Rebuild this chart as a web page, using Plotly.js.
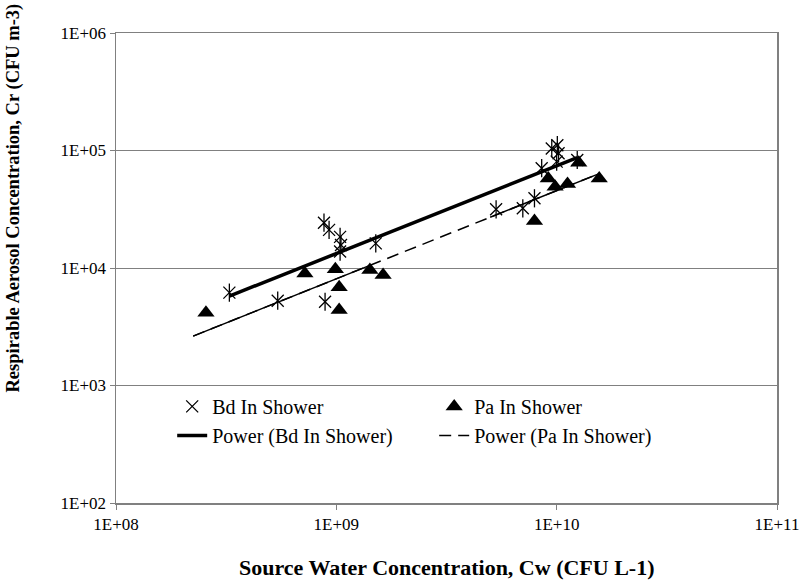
<!DOCTYPE html>
<html>
<head>
<meta charset="utf-8">
<script src="https://cdn.plot.ly/plotly-3.0.1.min.js"></script>
<style>html,body{margin:0;padding:0;background:#fff;}#chart{width:800px;height:587px;}</style>
</head>
<body>
<div id="chart"></div>
<script>
// ---- data ----
const bdX = [3.27e8, 8.79e8, 9.27e8, 1.04e9, 1.05e9, 1.04e9, 1.51e9, 5.42e8, 8.89e8, 9.5e9, 1.007e10, 1.02e10, 1.0e10, 8.55e9, 7.93e9, 7.02e9, 5.31e9, 1.24e10];
const bdY = [6.17e3, 2.43e4, 2.11e4, 1.84e4, 1.57e4, 1.38e4, 1.62e4, 5.27e3, 5.16e3, 1.04e5, 1.11e5, 9.46e4, 8.04e4, 7.07e4, 3.92e4, 3.22e4, 3.16e4, 8.3e4];
const paX = [2.56e8, 7.2e8, 9.9e8, 1.03e9, 1.03e9, 1.42e9, 1.63e9, 1.26e10, 9.16e9, 9.84e9, 1.12e10, 1.56e10, 7.93e9];
const paY = [4.17e3, 9.0e3, 9.75e3, 6.85e3, 4.40e3, 9.6e3, 8.7e3, 7.87e4, 5.79e4, 4.92e4, 5.19e4, 5.79e4, 2.51e4];
const paTrendXRange = [2.24e8, 1.57e10];
const paSolidGap = [1.42e9, 4.99e9];
const xTickVals = [1e8, 1e9, 1e10, 1e11];
const xTickText = ['1E+08', '1E+09', '1E+10', '1E+11'];
const yTickVals = [1e2, 1e3, 1e4, 1e5, 1e6];
const yTickText = ['1E+02', '1E+03', '1E+04', '1E+05', '1E+06'];
const seriesNames = ['Bd In Shower', 'Pa In Shower', 'Power (Bd In Shower)', 'Power (Pa In Shower)'];

// power-law (log-log least squares) fit
function powerFit(xs, ys) {
  const lx = xs.map(Math.log10), ly = ys.map(Math.log10);
  const n = lx.length;
  const mx = lx.reduce((a, b) => a + b, 0) / n, my = ly.reduce((a, b) => a + b, 0) / n;
  let sxy = 0, sxx = 0;
  for (let i = 0; i < n; i++) { sxy += (lx[i] - mx) * (ly[i] - my); sxx += (lx[i] - mx) ** 2; }
  const b = sxy / sxx, a = my - b * mx;
  return x => Math.pow(10, a + b * Math.log10(x));
}
const bdFit = powerFit(bdX, bdY);
const paFit = powerFit(paX, paY);
const bdRange = [Math.min(...bdX), Math.max(...bdX)];

const FONT = 'Liberation Serif';

const traces = [
  { x: bdX, y: bdY, mode: 'markers', type: 'scatter', name: seriesNames[0],
    marker: { symbol: 'x-thin-open', size: 12, color: '#000', line: { color: '#000', width: 1.3 } } },
  { x: paX, y: paY, mode: 'markers', type: 'scatter', name: seriesNames[1],
    marker: { symbol: 'triangle-up', size: 15, color: '#000' } },
  { x: bdRange, y: bdRange.map(bdFit), mode: 'lines', type: 'scatter', name: seriesNames[2],
    line: { color: '#000', width: 3.5 } },
  { x: paTrendXRange, y: paTrendXRange.map(paFit), mode: 'lines', type: 'scatter', name: seriesNames[3],
    line: { color: '#000', width: 1.5, dash: '12px,7px' } },
  { x: [paTrendXRange[0], paSolidGap[0]], y: [paTrendXRange[0], paSolidGap[0]].map(paFit), mode: 'lines', type: 'scatter',
    showlegend: false, hoverinfo: 'skip', line: { color: '#000', width: 1.5 } },
  { x: [paSolidGap[1], paTrendXRange[1]], y: [paSolidGap[1], paTrendXRange[1]].map(paFit), mode: 'lines', type: 'scatter',
    showlegend: false, hoverinfo: 'skip', line: { color: '#000', width: 1.5 } },
  { x: bdX, y: bdY, mode: 'markers', type: 'scatter', showlegend: false, hoverinfo: 'skip',
    marker: { symbol: 'line-ns-open', size: 13, color: '#000', line: { color: '#000', width: 1.3 } } }
];

const axisCommon = {
  type: 'log', ticks: 'outside', ticklen: 5, tickcolor: '#808080', tickwidth: 1,
  showline: true, linecolor: '#808080', linewidth: 1.5, mirror: true, zeroline: false,
  tickfont: { family: FONT, size: 17, color: '#000' }
};

const layout = {
  width: 800, height: 587,
  margin: { l: 116, r: 23, t: 33, b: 84 },
  paper_bgcolor: '#fff', plot_bgcolor: '#fff',
  showlegend: true,
  xaxis: Object.assign({}, axisCommon, {
    range: [8, 11], tickvals: xTickVals, ticktext: xTickText, showgrid: false
  }),
  yaxis: Object.assign({}, axisCommon, {
    range: [2, 6], tickvals: yTickVals, ticktext: yTickText,
    showgrid: true, gridcolor: '#808080', gridwidth: 1
  }),
  legend: {
    orientation: 'h', x: 0.085, y: 0.247, xanchor: 'left', yanchor: 'top',
    entrywidth: 217, bgcolor: 'rgba(0,0,0,0)',
    font: { family: FONT, size: 20, color: '#000' }
  },
  annotations: [
    { text: 'Source Water Concentration, Cw (CFU L-1)', xref: 'paper', yref: 'paper',
      x: 0.5, y: -0.138, xanchor: 'center', yanchor: 'middle', showarrow: false,
      font: { family: FONT, size: 22, color: '#000', weight: 'bold' } },
    { text: 'Respirable Aerosol Concentration, Cr (CFU m-3)', xref: 'paper', yref: 'paper',
      x: -0.155, y: 0.649, xanchor: 'center', yanchor: 'middle', textangle: -90, showarrow: false,
      font: { family: FONT, size: 18.5, color: '#000', weight: 'bold' } }
  ]
};

Plotly.newPlot('chart', traces, layout, { displayModeBar: false, staticPlot: true });
</script>
</body>
</html>
